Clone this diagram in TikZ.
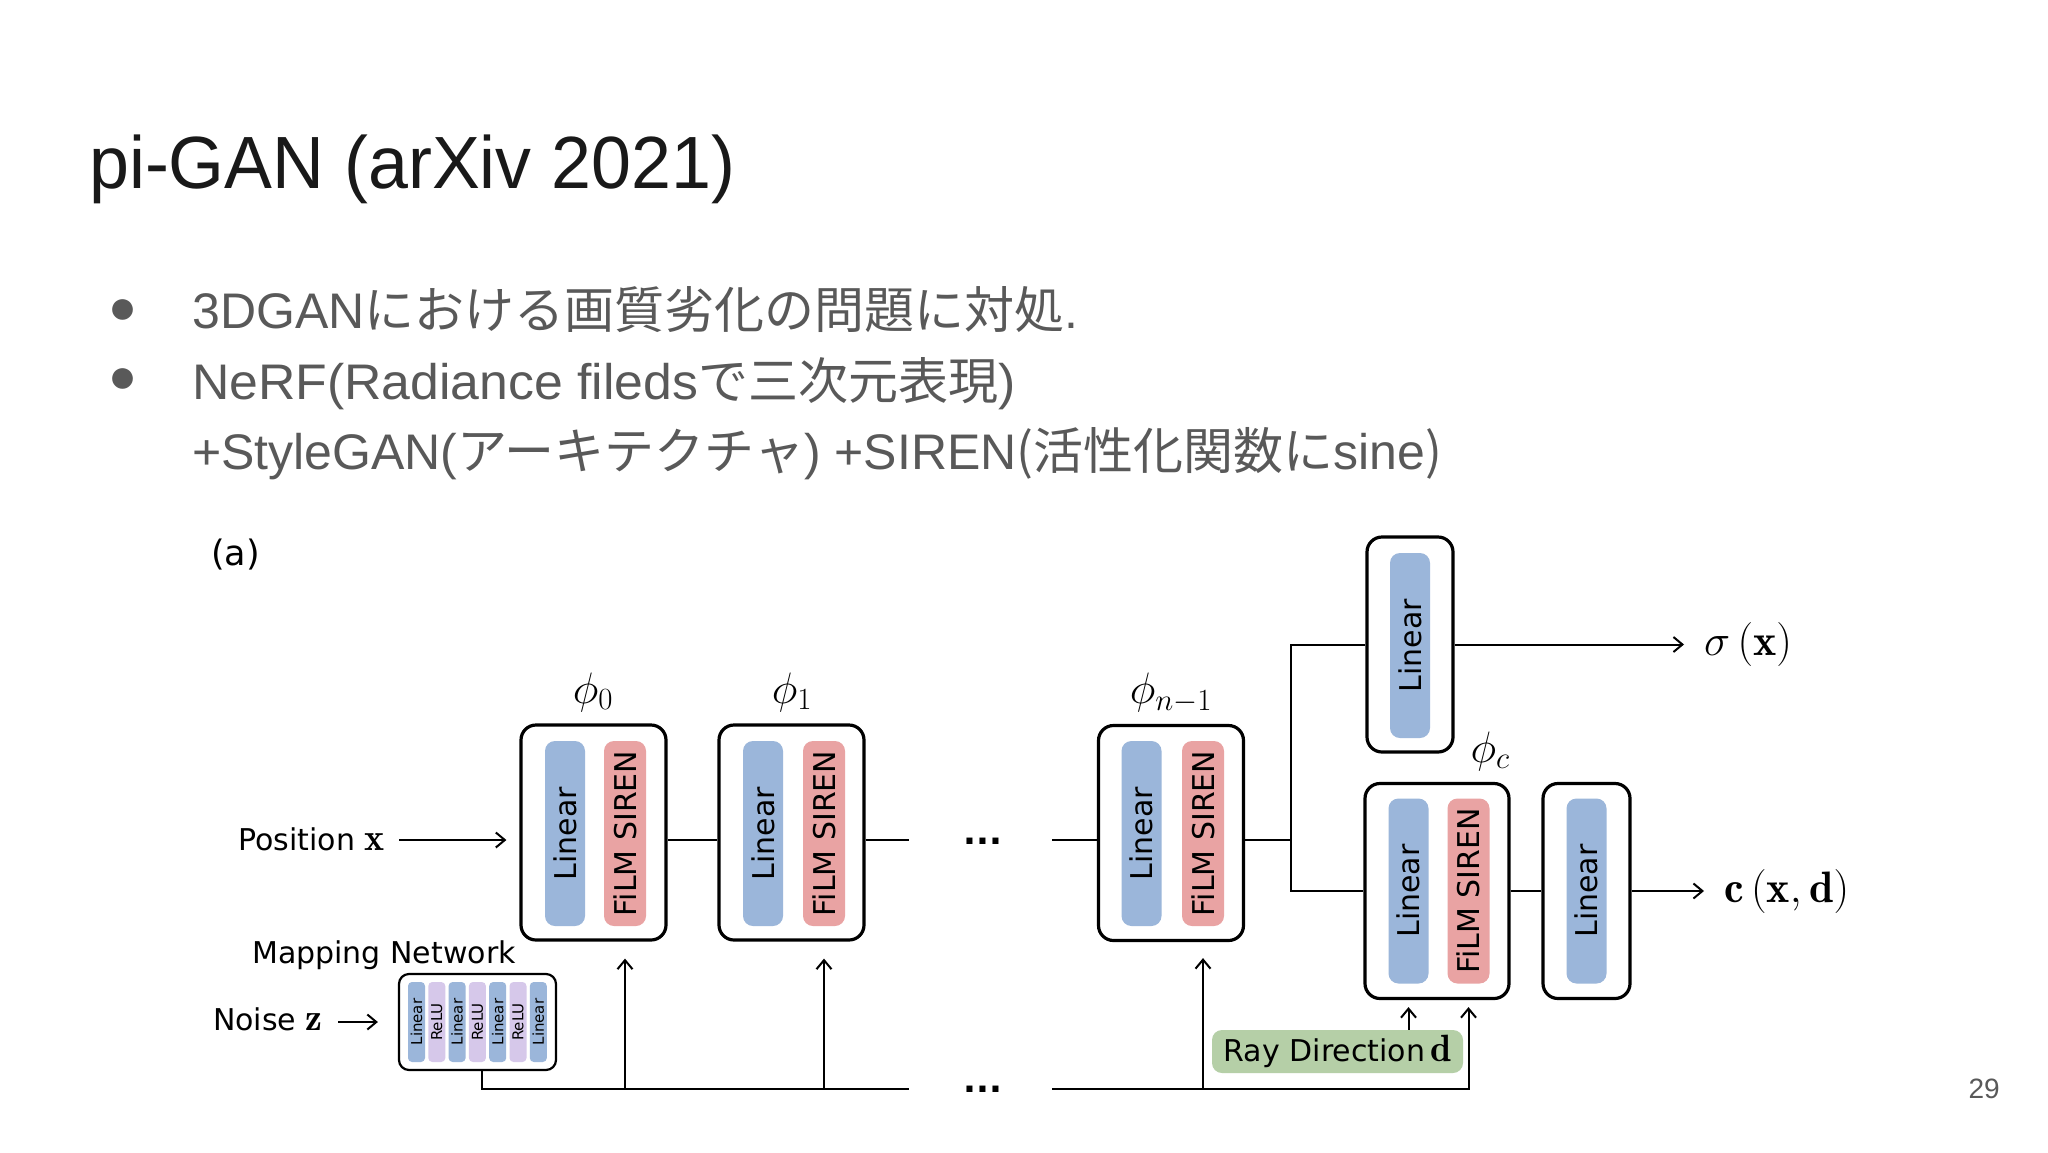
\RequirePackage{fix-cm}
\documentclass[tikz,border=0pt]{standalone}
\usepackage{fontspec}
\newfontfamily\lat{Liberation Sans}
\newfontfamily\latc[FakeStretch=0.97]{Liberation Sans}
\newfontfamily\latw[FakeStretch=1.035]{Liberation Sans}
\newfontfamily\jp{Noto Sans CJK JP}
\newfontfamily\dv{DejaVu Sans}
\usetikzlibrary{arrows.meta}
\definecolor{barblue}{HTML}{9BB6DA}
\definecolor{barred}{HTML}{E9A3A3}
\definecolor{barpurple}{HTML}{D6C8EA}
\definecolor{raygreen}{HTML}{B5CFA7}
\definecolor{txtgray}{HTML}{595959}
\newcommand{\lblmath}[1]{{\fontsize{38}{40}\selectfont$#1$}}
\begin{document}
\begin{tikzpicture}[x=1pt,y=-1pt,
  outerbox/.style={draw=black, line width=3.2pt, rounded corners=15pt, fill=white, inner sep=0pt, minimum height=215pt},
  bar/.style={rounded corners=10pt, inner sep=0pt, rotate=90, minimum width=185pt, font=\dv\fontsize{30}{32}\selectfont, text=black},
  linbar/.style={bar, fill=barblue, minimum height=40pt},
  filmbar/.style={bar, fill=barred, minimum height=42pt},
  mbar/.style={rounded corners=4pt, inner sep=0pt, rotate=90, minimum width=80pt, minimum height=17pt, font=\dv\fontsize{15}{16}\selectfont, text=black},
  mlin/.style={mbar, fill=barblue},
  mrelu/.style={mbar, fill=barpurple},
  lbl/.style={inner sep=0pt, font=\dv\fontsize{30}{32}\selectfont, text=black},
  mlbl/.style={inner sep=0pt, font=\fontsize{44}{46}\selectfont, text=black},
  dotsnode/.style={inner sep=0pt, font=\dv\bfseries\fontsize{34}{36}\selectfont, text=black},
  conn/.style={draw=black, line width=2pt},
  arr/.style={conn, -{Straight Barb[length=9pt,width=15pt,line width=2pt]}},
  bul/.style={inner sep=0pt, anchor=base west, font=\lat\fontsize{50}{60}\selectfont, text=txtgray},
  bulletdot/.style={inner sep=0pt, font=\lat\fontsize{48}{50}\selectfont, text=txtgray}
]
\useasboundingbox (0,0) rectangle (2048,1152);
\fill[white] (0,0) rectangle (2048,1152);

% title and bullets
\node[inner sep=0pt, anchor=base west, font=\latc\fontsize{74}{80}\selectfont, text=black!90] (title) at (89,188) {pi-GAN (arXiv 2021)};
\node[bulletdot] (b1) at (123,312) {●};
\node[bulletdot] (b2) at (123,381) {●};
\node[bul] (t1) at (192,328) {3DGAN{\jp における画質劣化の問題に対処}.};
\node[bul] (t2) at (192,399) {\latw NeRF(Radiance fileds{\jp で三次元表現})};
\node[bul] (t3) at (192,469) {+StyleGAN({\jp アーキテクチャ}) +SIREN{\jp (活性化関数に}sine{\jp )}};
\node[inner sep=0pt, anchor=base east, font=\lat\fontsize{28}{30}\selectfont, text=txtgray] (pg) at (2000,1098) {29};

% diagram label
\node[inner sep=0pt, anchor=base west, font=\dv\fontsize{35}{40}\selectfont] (lbla) at (211,565) {(a)};

% main blocks
\node[outerbox, minimum width=145pt] (B0) at (593.5,832.5) {};
\node[linbar] (L0) at (565,833.5) {Linear};
\node[filmbar] (F0) at (625,833.5) {FiLM SIREN};
\node[outerbox, minimum width=145pt] (B1) at (791.5,832.5) {};
\node[linbar] (L1) at (763,833.5) {Linear};
\node[filmbar] (F1) at (824,833.5) {FiLM SIREN};
\node[outerbox, minimum width=145pt] (B2) at (1171,833) {};
\node[linbar] (L2) at (1141.5,833.5) {Linear};
\node[filmbar] (F2) at (1203,833.5) {FiLM SIREN};
\node[outerbox, minimum width=144pt] (Bc) at (1437,891) {};
\node[linbar] (Lc) at (1408.5,891) {Linear};
\node[filmbar] (Fc) at (1468.5,891) {FiLM SIREN};
\node[outerbox, minimum width=86pt] (Bs) at (1410,644.5) {};
\node[linbar] (Ls) at (1410,645.5) {Linear};
\node[outerbox, minimum width=87pt] (Bo) at (1586.5,891) {};
\node[linbar] (Lo) at (1586.5,891) {Linear};

% phi labels
\node[mlbl] (p0) at (593,692) {$\phi_0$};
\node[mlbl] (p1) at (792,692) {$\phi_1$};
\node[mlbl] (p2) at (1171,693) {$\phi_{n-1}$};
\node[mlbl] (pc) at (1490,751) {$\phi_c$};

% outputs
\node[mlbl, anchor=west] (sig) at (1704,644.5) {$\sigma\left(\mathbf{x}\right)$};
\node[mlbl, anchor=west] (cout) at (1724,891) {$\mathbf{c}\left(\mathbf{x},\mathbf{d}\right)$};

% inputs
\node[lbl, anchor=base east] (pos) at (385,850) {Position \lblmath{\mathbf{x}}};
\node[lbl, anchor=base] (mnl) at (384,963) {Mapping Network};
\node[lbl, anchor=base east] (noise) at (323,1030) {Noise \lblmath{\mathbf{z}}};

% mapping network
\node[draw=black, line width=2.2pt, rounded corners=10pt, inner sep=0pt, minimum width=157pt, minimum height=96pt, fill=white] (M) at (477.5,1022) {};
\node[mlin] (m1) at (416.5,1022) {Linear};
\node[mrelu] (m2) at (436.8,1022) {ReLU};
\node[mlin] (m3) at (457.1,1022) {Linear};
\node[mrelu] (m4) at (477.4,1022) {ReLU};
\node[mlin] (m5) at (497.7,1022) {Linear};
\node[mrelu] (m6) at (518.0,1022) {ReLU};
\node[mlin] (m7) at (538.3,1022) {Linear};

% ray direction
\node[lbl, fill=raygreen, rounded corners=10pt, minimum width=251pt, minimum height=43pt] (ray) at (1337.5,1051.5) {Ray Direction\,\lblmath{\mathbf{d}}};

% dots
\node[dotsnode, anchor=base] (dots1) at (983,844.5) {...};
\node[dotsnode, anchor=base] (dots2) at (983,1092.5) {...};

% coordinates
\coordinate (posA) at (399,840);
\coordinate (noA) at (338,1022);
\coordinate (mdA) at (909,840);
\coordinate (mdB) at (1052,840);
\coordinate (J) at (1291,840);
\coordinate (blA) at (909,1089);
\coordinate (blB) at (1052,1089);

% connectors
\draw[arr, shorten >=13pt] (posA) -- (posA -| B0.west);
\draw[arr, shorten >=20pt] (noA) -- (noA -| M.west);
\draw[conn] (B0.east |- posA) -- (B1.west |- posA);
\draw[conn] (B1.east |- posA) -- (mdA);
\draw[conn] (mdB) -- (B2.west |- posA);
\draw[conn] (B2.east |- posA) -- (J);
\draw[conn] (J) |- (Bs.west);
\draw[conn] (J) |- (Bc.west);
\draw[arr, shorten >=20pt] (Bs.east) -- (sig.west);
\draw[conn] (Bc.east) -- (Bo.west);
\draw[arr, shorten >=20pt] (Bo.east) -- (cout.west);

\draw[conn] ([xshift=4.5pt]M.south) |- (blA);
\draw[arr, shorten >=17pt] (F0 |- blA) -- (F0 |- B0.south);
\draw[arr, shorten >=17pt] (F1 |- blA) -- (F1 |- B0.south);
\draw[arr, shorten >=16pt] (F2 |- blA) -- (F2 |- B2.south);
\draw[arr, shorten >=7pt] (blB) -| (Fc |- Bc.south);
\draw[arr, shorten >=7pt] (Lc |- ray.north) -- (Lc |- Bc.south);
\end{tikzpicture}
\end{document}
